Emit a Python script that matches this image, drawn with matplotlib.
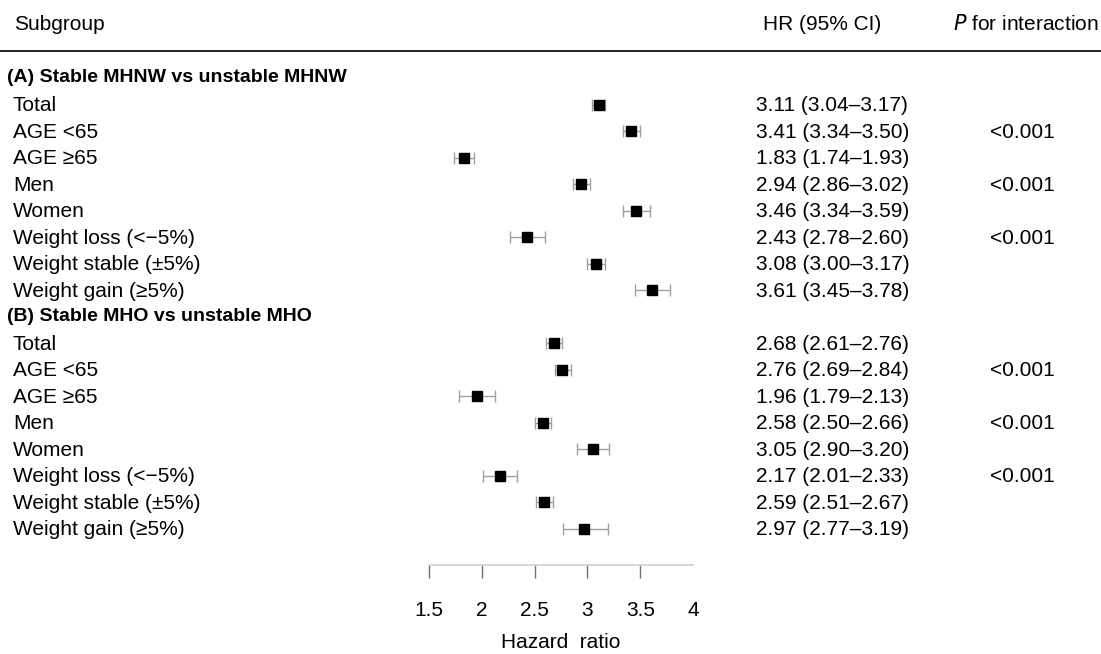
import matplotlib
matplotlib.use("Agg")
import matplotlib.pyplot as plt
import matplotlib.transforms as mtransforms
import numpy as np

plt.rcParams['font.family'] = ['Liberation Sans', 'DejaVu Sans']

# Data
sections = ["(A) Stable MHNW vs unstable MHNW", "(B) Stable MHO vs unstable MHO"]
subgroups_a = ["Total", "AGE <65", "AGE \u226565", "Men", "Women",
               "Weight loss (<\u22125%)", "Weight stable (\u00b15%)", "Weight gain (\u22655%)"]
subgroups_b = ["Total", "AGE <65", "AGE \u226565", "Men", "Women",
               "Weight loss (<\u22125%)", "Weight stable (\u00b15%)", "Weight gain (\u22655%)"]

hr_a = [3.11, 3.41, 1.83, 2.94, 3.46, 2.43, 3.08, 3.61]
lo_a = [3.04, 3.34, 1.74, 2.86, 3.34, 2.27, 3.00, 3.45]
hi_a = [3.17, 3.50, 1.93, 3.02, 3.59, 2.60, 3.17, 3.78]
hr_b = [2.68, 2.76, 1.96, 2.58, 3.05, 2.17, 2.59, 2.97]
lo_b = [2.61, 2.69, 1.79, 2.50, 2.90, 2.01, 2.51, 2.77]
hi_b = [2.76, 2.84, 2.13, 2.66, 3.20, 2.33, 2.67, 3.19]

# printed HR column (as in the source, incl. its weight-loss CI)
hr_text_a = ["3.11 (3.04\u20133.17)", "3.41 (3.34\u20133.50)", "1.83 (1.74\u20131.93)",
             "2.94 (2.86\u20133.02)", "3.46 (3.34\u20133.59)", "2.43 (2.78\u20132.60)",
             "3.08 (3.00\u20133.17)", "3.61 (3.45\u20133.78)"]
hr_text_b = ["2.68 (2.61\u20132.76)", "2.76 (2.69\u20132.84)", "1.96 (1.79\u20132.13)",
             "2.58 (2.50\u20132.66)", "3.05 (2.90\u20133.20)", "2.17 (2.01\u20132.33)",
             "2.59 (2.51\u20132.67)", "2.97 (2.77\u20133.19)"]
p_a = ["", "<0.001", "", "<0.001", "", "<0.001", "", ""]
p_b = ["", "<0.001", "", "<0.001", "", "<0.001", "", ""]

xticks = [1.5, 2, 2.5, 3, 3.5, 4]

W, H = 1101, 654
fig = plt.figure(figsize=(W / 100, H / 100), dpi=100)

# forest axes: x 1.5 -> 428.7px, 4 -> 693.3px ; rows 26.5px apart, row 0 at y=78px
row0, dy = 78.0, 26.5
y_axis_px, y_top_px = 565.0, 52.0
left, right = 428.7, 693.3
ax = fig.add_axes([left / W, 1 - y_axis_px / H, (right - left) / W, (y_axis_px - y_top_px) / H])
ax.set_xlim(1.5, 4)
ax.set_ylim((y_axis_px - row0) / dy, (y_top_px - row0) / dy)

rows_a = np.arange(1, 9)
rows_b = np.arange(10, 18)
sec_rows = [0, 9]

for rows, hr, lo, hi in [(rows_a, hr_a, lo_a, hi_a), (rows_b, hr_b, lo_b, hi_b)]:
    hr = np.array(hr)
    err = [hr - np.array(lo), np.array(hi) - hr]
    ax.errorbar(hr, rows, xerr=err, fmt='s', color='black', ms=7,
                ecolor='#a0a0a0', elinewidth=1, capsize=4, capthick=1)

for s in ['top', 'right', 'left']:
    ax.spines[s].set_visible(False)
ax.spines['bottom'].set_color('#d0d0d0')
ax.spines['bottom'].set_linewidth(1.2)
ax.set_yticks([])
ax.set_xticks(xticks)
ax.set_xticklabels([str(t) for t in xticks], fontsize=15)
ax.tick_params(axis='x', direction='out', length=9, width=1, color='#707070', pad=17)
ax.xaxis.get_major_ticks()[-1].tick1line.set_visible(False)

# text columns
tr = mtransforms.blended_transform_factory(fig.transFigure, ax.transData)
fs = 15
for sec, r in zip(sections, sec_rows):
    ax.text(7 / W, r, sec, transform=tr, fontsize=14, fontweight='bold', va='center', ha='left')
for rows, labs, txt, ps in [(rows_a, subgroups_a, hr_text_a, p_a), (rows_b, subgroups_b, hr_text_b, p_b)]:
    for r, lab, t, p in zip(rows, labs, txt, ps):
        ax.text(13 / W, r + 0.05, lab, transform=tr, fontsize=fs, va='center', ha='left')
        ax.text(756 / W, r + 0.05, t, transform=tr, fontsize=fs, va='center', ha='left')
        if p:
            ax.text(990 / W, r + 0.05, p, transform=tr, fontsize=fs, va='center', ha='left')

# header
fig.text(14 / W, 1 - 24 / H, "Subgroup", fontsize=fs, va='center', ha='left')
fig.text(763 / W, 1 - 24 / H, "HR (95% CI)", fontsize=fs, va='center', ha='left')
fig.text(1099 / W, 1 - 24 / H, "$\\it{P}$ for interaction", fontsize=fs, va='center', ha='right')
fig.add_artist(plt.Line2D([0, 1], [1 - 51 / H, 1 - 51 / H], color='black', lw=1.2,
                          transform=fig.transFigure))

fig.text((left + right) / 2 / W, 1 - 643 / H, "Hazard  ratio", fontsize=fs, va='center', ha='center')

fig.savefig("out.png", dpi=100, facecolor='white')
